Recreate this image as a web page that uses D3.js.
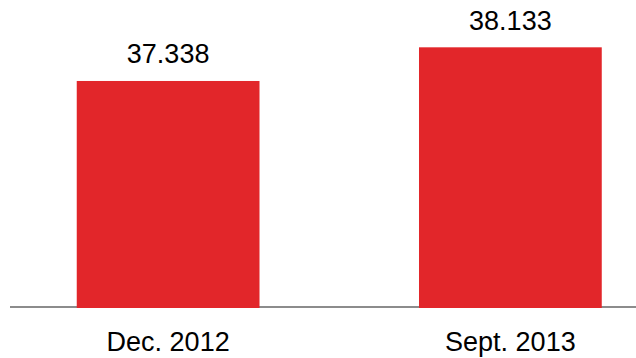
<!DOCTYPE html>
<html>
<head>
<meta charset="utf-8">
<script src="https://cdn.jsdelivr.net/npm/d3@7/dist/d3.min.js"></script>
<style>
  html, body { margin: 0; padding: 0; background: #fff; }
  svg { display: block; }
  text { font-family: "Liberation Sans", Arial, sans-serif; fill: #000; }
</style>
</head>
<body>
<svg id="chart" width="636" height="358"></svg>
<script>
// Periods and values shown on the bars
const categories = ["Dec. 2012", "Sept. 2013"];
const values = [37.338, 38.133];
const valueLabels = ["37.338", "38.133"];

const width = 636, height = 358;
const baseY = 307;

const svg = d3.select("#chart");

const x = d3.scaleBand()
  .domain(categories)
  .range([-3, 681.5])
  .paddingInner(0.466)
  .paddingOuter(0.233);

// Value axis does not start at zero
const y = d3.scaleLinear()
  .domain([32, 39])
  .range([baseY, 10.6]);

// Baseline
svg.append("line")
  .attr("x1", 10).attr("x2", width)
  .attr("y1", baseY).attr("y2", baseY)
  .attr("stroke", "#8c8c8c")
  .attr("stroke-width", 2);

// Bars
svg.selectAll("rect.bar")
  .data(values)
  .join("rect")
  .attr("class", "bar")
  .attr("x", (d, i) => x(categories[i]))
  .attr("width", x.bandwidth())
  .attr("y", d => y(d))
  .attr("height", d => baseY + 1 - y(d))
  .attr("fill", "#e2262a");

// Value labels above bars
svg.selectAll("text.val")
  .data(values)
  .join("text")
  .attr("class", "val")
  .attr("x", (d, i) => x(categories[i]) + x.bandwidth() / 2)
  .attr("y", d => y(d) - 17.7)
  .attr("text-anchor", "middle")
  .attr("font-size", 27)
  .text((d, i) => valueLabels[i]);

// Category labels
svg.selectAll("text.cat")
  .data(categories)
  .join("text")
  .attr("class", "cat")
  .attr("x", d => x(d) + x.bandwidth() / 2)
  .attr("y", 350.7)
  .attr("text-anchor", "middle")
  .attr("font-size", 27)
  .text(d => d);
</script>
</body>
</html>
